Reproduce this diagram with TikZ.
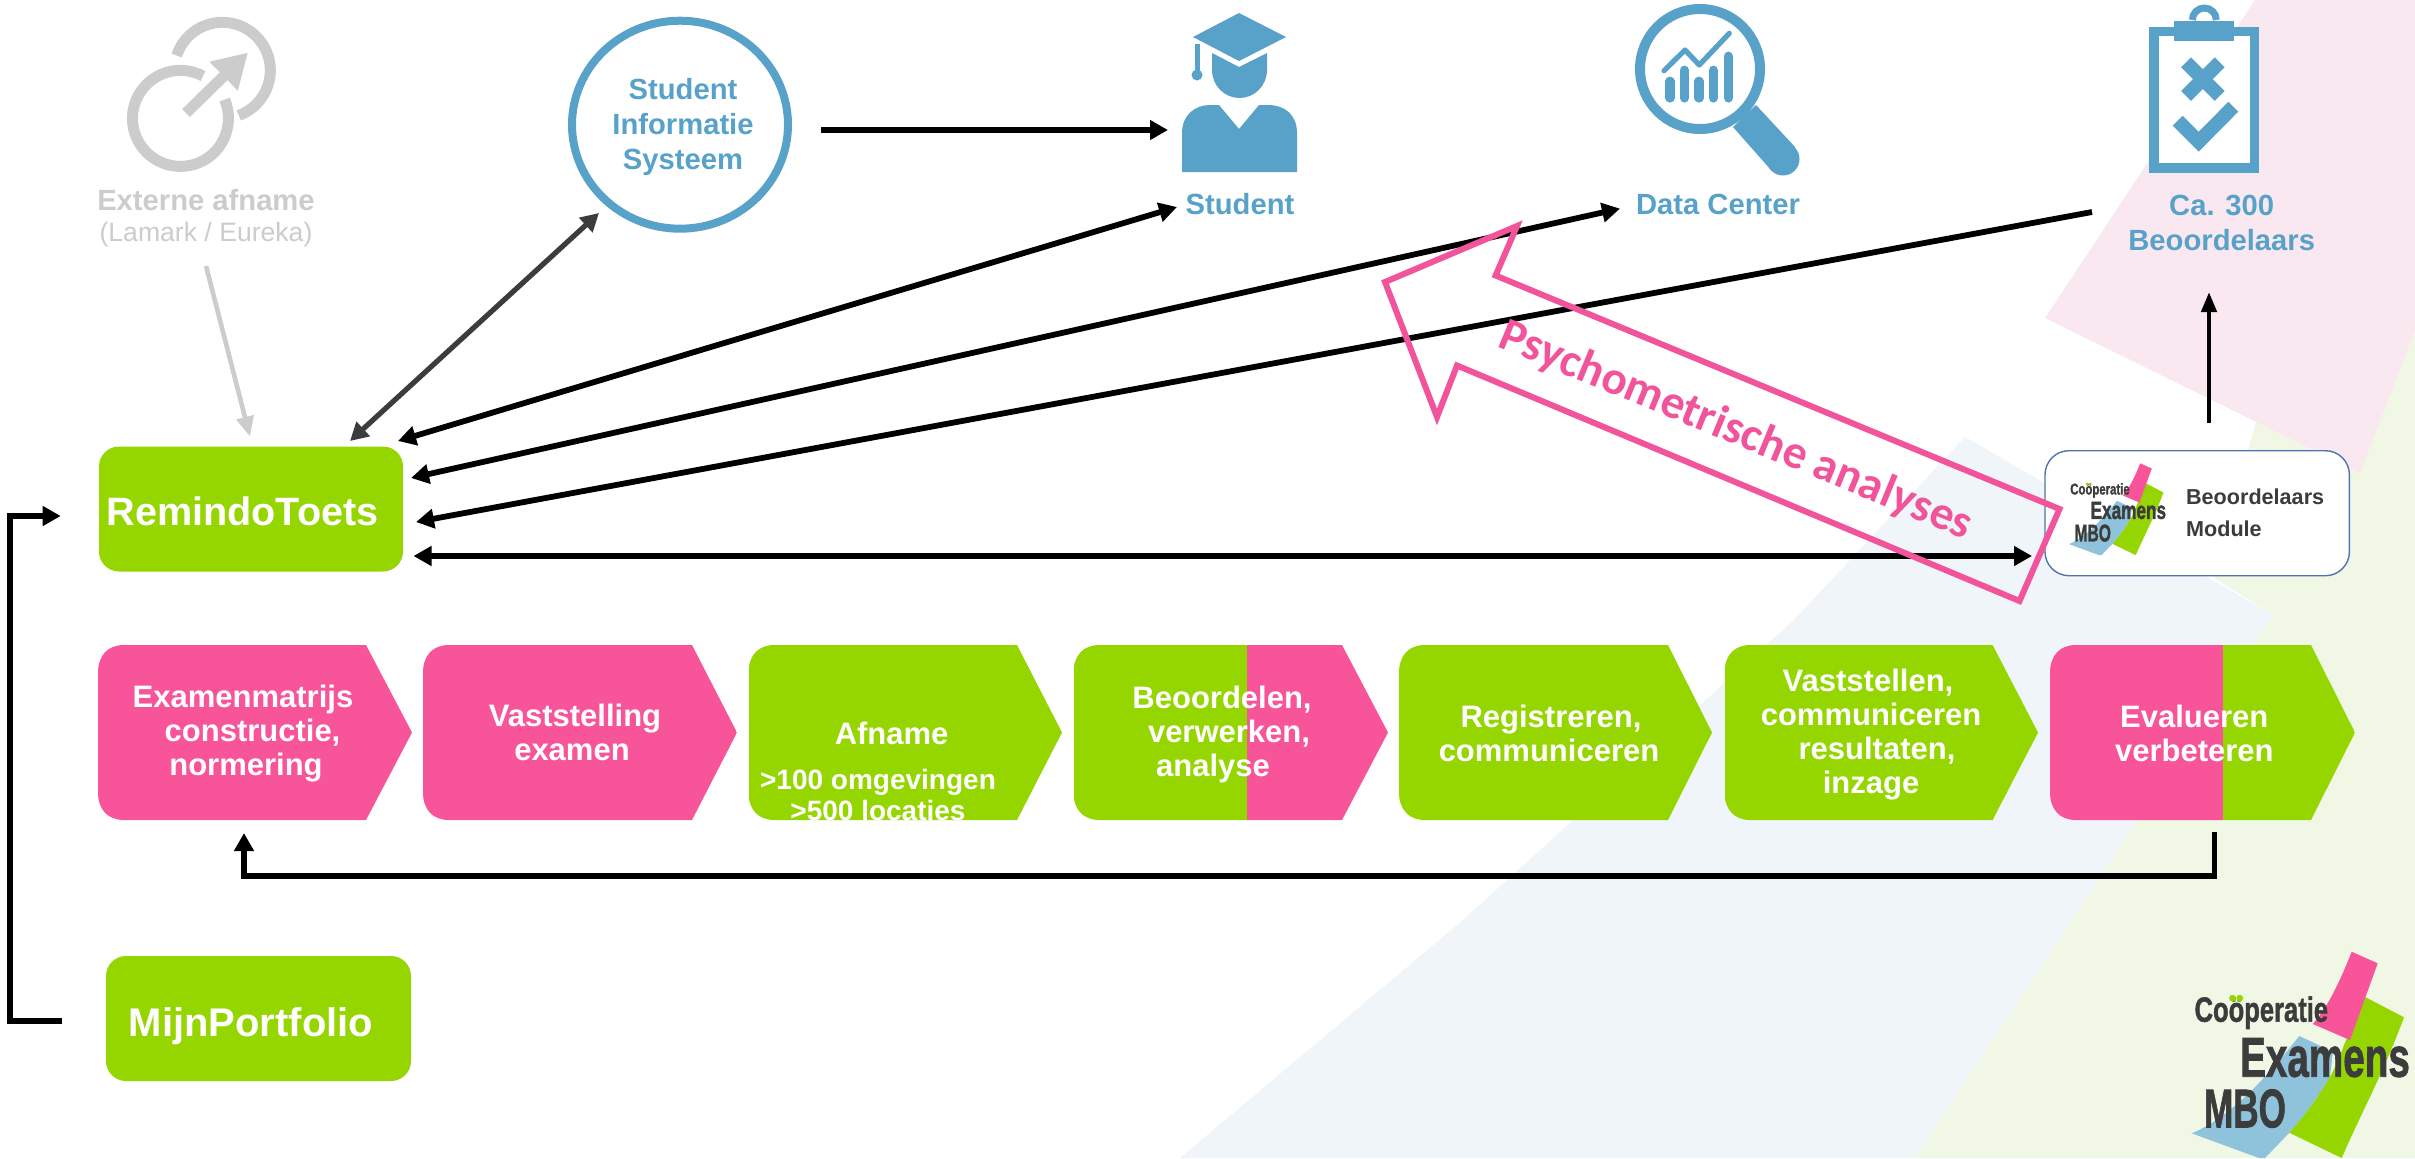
\documentclass[tikz,border=0pt]{standalone}
\usepackage{fontspec}
\setmainfont{Liberation Sans}
\newfontfamily\psyfont{Carlito}
\newfontfamily\logofont{Liberation Sans}[BoldFeatures={FakeBold=1.6}]
\usetikzlibrary{arrows.meta}
\definecolor{cpink}{HTML}{F8549A}
\definecolor{cgreen}{HTML}{95D600}
\definecolor{cblue}{HTML}{58A2C9}
\definecolor{lblue}{HTML}{8FC3DC}
\definecolor{cgrey}{HTML}{CCCCCC}
\definecolor{cdark}{HTML}{3C3C3C}
\definecolor{arrpink}{HTML}{F1549B}
\definecolor{bgpink}{HTML}{FAE8F1}
\definecolor{bggreen}{HTML}{F0F7E4}
\definecolor{bgblue}{HTML}{EFF5F8}
\definecolor{modline}{HTML}{4F74AE}
\tikzset{
  x=0.5pt,y=-0.5pt,
  arr/.style={line width=2.9pt,line join=miter,-{Triangle[length=9pt,width=9.5pt]}},
  arrboth/.style={line width=2.9pt,{Triangle[length=9pt,width=9.5pt]}-{Triangle[length=9pt,width=9.5pt]}},
  arrdark/.style={draw=cdark,line width=2.6pt,{Triangle[length=9pt,width=9.5pt]}-{Triangle[length=9pt,width=9.5pt]}},
  arrgrey/.style={draw=cgrey,line width=2.3pt,-{Triangle[length=10pt,width=8.5pt]}},
  arrthin/.style={line width=2.2pt,-{Triangle[length=10pt,width=7.5pt]}},
  chevtext/.style={text=white,align=center,inner sep=0pt,font=\fontsize{15.5}{17}\selectfont\bfseries},
  bluelabel/.style={text=cblue,align=center,inner sep=0pt,font=\fontsize{14.6}{17.5}\selectfont\bfseries},
  greenbox/.style={fill=cgreen,rounded corners=10pt,inner sep=0pt,text=white},
  logotext/.style={text=cdark,inner sep=0pt,anchor=base,transform shape}
}
\newcommand{\chevpath}[3]{({#1},673) .. controls ({#1},655) and ({#1+10},645) .. ({#1+26},645) -- ({#2},645) -- ({#3},732.5) -- ({#2},820) -- ({#1+26},820) .. controls ({#1+10},820) and ({#1},810) .. ({#1},792) -- cycle}
\newcommand{\chevron}[6]{%
  \begin{scope}
    \clip \chevpath{#1}{#2}{#3};
    \fill[#4] (#1,640) rectangle (#5,825);
    \fill[#6] (#5,640) rectangle (#3,825);
  \end{scope}}
\newcommand{\cemlogo}[1]{%
  \fill[lblue] (107.6,84.3) -- (141.3,100) -- (138.3,125) .. controls (125,148) and (112,165) .. (97.6,181) -- (73.3,206.3) -- (67.3,206.3) -- (0,181.6) .. controls (40,165) and (75,125) .. cycle;
  \fill[cgreen] (174,45.6) -- (212.3,65.6) .. controls (190,125) and (170,160) .. (150,206.3) -- (97.6,181) .. controls (112,165) and (125,148) .. (138.3,125) .. controls (150,105) and (155,80) .. cycle;
  \fill[cpink] (160,0) -- (186,11.6) -- (158.3,88.3) -- (121,72.3) .. controls (137,55) and (150,25) .. cycle;
  \node[logotext,xscale=.73,font=\logofont\fontsize{17.5}{20}\selectfont\bfseries] (#1coop) at (69.6,70) {Coöperatie};
  \fill[cgreen,transform shape] (40.8,46.5) circle (3.4) (48,46.5) circle (3.4);
  \node[logotext,xscale=.69,font=\logofont\fontsize{28}{30}\selectfont\bfseries] (#1exam) at (133.3,125) {Examens};
  \node[logotext,xscale=.645,font=\logofont\fontsize{27.2}{30}\selectfont\bfseries] (#1mbo) at (53.3,175.6) {MBO};
}
\begin{document}
\begin{tikzpicture}
\useasboundingbox (0,0) rectangle (2415,1158);
\fill[white] (0,0) rectangle (2415,1158);
% background planes
\fill[bggreen] (2262,400) -- (2415,300) -- (2415,1158) -- (1915,1158) -- (2273,615) -- (2213,577) -- cycle;
\fill[bgblue] (1965,437) -- (2273,615) -- (1915,1158) -- (1180,1158) -- (1463,920) -- (1794,620) -- cycle;
\fill[bgpink] (2255,0) -- (2415,0) -- (2415,330) -- (2360,473) -- (2045,318) -- cycle;

% chevrons
\chevron{98}{366}{412}{cpink}{412}{cpink}
\chevron{423}{692}{737}{cpink}{737}{cpink}
\chevron{748.5}{1017}{1062}{cgreen}{1062}{cgreen}
\chevron{1073.5}{1342}{1388}{cgreen}{1247}{cpink}
\chevron{1399}{1668}{1712}{cgreen}{1712}{cgreen}
\chevron{1724.5}{1992.6}{2038}{cgreen}{2038}{cgreen}
\chevron{2050}{2311}{2355}{cpink}{2223}{cgreen}

\node[chevtext] (c1) at (243,734) {Examenmatrijs\\\hspace*{9.5pt}constructie,\\\hspace*{3pt}normering};
\node[chevtext] (c2) at (575,732) {Vaststelling\\\hspace*{-3pt}examen};
\node[chevtext] (c3a) at (891.6,733) {Afname};
\begin{scope}
  \clip \chevpath{748.5}{1017}{1062};
  \node[chevtext,font=\fontsize{14}{15.5}\selectfont\bfseries] (c3b) at (878,795) {>100 omgevingen\\>500 locaties};
\end{scope}
\node[chevtext] (c4) at (1222,734) {Beoordelen,\\\hspace*{7pt}verwerken,\\\hspace*{-9pt}analyse};
\node[chevtext] (c5) at (1551,733) {Registreren,\\\hspace*{-2pt}communiceren};
\node[chevtext] (c6) at (1871,734.5) {\hspace*{-3pt}Vaststellen,\\communiceren\\\hspace*{6pt}resultaten,\\inzage};
\node[chevtext] (c7) at (2194.3,733) {Evalueren\\verbeteren};

% boxes
\node[greenbox,minimum width=152pt,minimum height=62.5pt] (remindo) at (251,509) {};
\node[text=white,inner sep=0pt,font=\fontsize{19.8}{22}\selectfont\bfseries] (remindotxt) at (242.5,511) {RemindoToets};
\node[greenbox,minimum width=152.5pt,minimum height=62.5pt] (mijn) at (258.5,1018.5) {};
\node[text=white,inner sep=0pt,font=\fontsize{20}{22}\selectfont\bfseries] (mijntxt) at (251,1026) {MijnPortfolio};

% external exam icon
\draw[cgrey,line width=5.5pt] (203,76) arc[start angle=-62,end angle=-383,radius=48];
\draw[cgrey,line width=5.5pt] (176.7,55.5) arc[start angle=-162,end angle=70,radius=48];
\draw[cgrey,line width=5.5pt,-{Triangle[length=17pt,width=19pt]}] (186,113) -- (248,52.5);
\node[text=cgrey,inner sep=0pt,font=\fontsize{14.6}{17}\selectfont\bfseries] (ext1) at (206,200) {Externe afname};
\node[text=cgrey,inner sep=0pt,font=\fontsize{13.3}{16}\selectfont] (ext2) at (206,234.5) {(Lamark / Eureka)};

% SIS
\draw[cblue,line width=4pt] (680,124.7) ellipse [x radius=108,y radius=104];
\node[bluelabel] (sis) at (683,127) {Student\\Informatie\\Systeem};

% student icon
\fill[cblue] (1239,13) -- (1286,37) -- (1239,61) -- (1193,37) -- cycle;
\fill[cblue] (1195,44) rectangle (1199.5,72);
\fill[cblue] (1197,75) circle (5.5);
\fill[cblue] (1212,53) -- (1239,67) -- (1267,53) -- (1267,70) arc[start angle=0,end angle=180,x radius=27.5,y radius=28] -- cycle;
\fill[cblue] (1182,172) -- (1182,133) .. controls (1182,115) and (1195,105) .. (1210,105) -- (1219,105) -- (1239,129) -- (1259,105) -- (1268,105) .. controls (1285,105) and (1297,115) .. (1297,133) -- (1297,172) -- cycle;
\node[bluelabel] (student) at (1240,204) {Student};

% data center icon
\fill[cblue] (1733,127) -- (1756,105) -- (1795,147) -- (1771,170) -- cycle;
\fill[cblue] (1783,159) circle (16.5);
\fill[white] (1700,69) circle (60);
\draw[cblue,line width=5pt] (1700,69) circle (60);
\foreach \bx/\by in {1670/76.7,1684.3/65.7,1699/76.7,1713.3/65.7,1728.3/51.7}
  \draw[cblue,line width=4.6pt,line cap=round] (\bx,\by+4.5) -- (\bx,98);
\draw[cblue,line width=2.6pt,line cap=round,line join=round] (1664,70.7) -- (1685,50) -- (1699.3,65) -- (1729.3,33.3);
\node[bluelabel] (data) at (1718,204) {Data Center};

% assessors icon
\draw[cblue,line width=3.5pt] (2192.3,20) arc[start angle=180,end angle=360,radius=12];
\fill[cblue] (2149.3,26.7) rectangle (2259.3,173.3);
\fill[white] (2159,36) rectangle (2249.7,163.3);
\fill[cblue] (2174.3,21) rectangle (2234.3,41.3);
\draw[cblue,line width=7pt] (2186,62.3) -- (2219.7,96) (2219.7,62.3) -- (2186,96);
\draw[cblue,line width=7pt,line join=miter] (2177.7,120.7) -- (2198.7,141.7) -- (2233.3,106.7);
\node[bluelabel] (beoord) at (2221.7,222.5) {Ca. 300\\Beoordelaars};

% module box
\node[draw=modline,line width=.7pt,fill=white,rounded corners=12pt,minimum width=152.2pt,minimum height=62.5pt,inner sep=0pt] (module) at (2197.2,513.2) {};
\begin{scope}[shift={(2069,463.3)},scale=.445]
  \cemlogo{s}
\end{scope}
\node[anchor=west,align=left,text=cdark,inner sep=0pt,font=\fontsize{10.8}{16}\selectfont\bfseries] (modtxt) at (2185.7,512.5) {Beoordelaars\\Module};

% large logo
\begin{scope}[shift={(2191.7,951.7)}]
  \cemlogo{b}
\end{scope}

% connector ends
\coordinate (sisR) at (821,130);
\coordinate (stuL) at (1168,130);
\coordinate (sisB) at (599,213);
\coordinate (remS) at (350,441);
\coordinate (stuB) at (1177,207);
\coordinate (remA) at (398,441);
\coordinate (datB) at (1620,208.6);
\coordinate (remB) at (411,478);
\coordinate (beoL) at (2092,212);
\coordinate (remC) at (416,522);
\coordinate (remD) at (413.5,556);
\coordinate (modL) at (2032,556);
\coordinate (extB) at (206,266);
\coordinate (remT) at (250,436.6);
\coordinate (modT) at (2209,423);
\coordinate (beoB) at (2209,292);
\coordinate (mijL) at (62,1021);
\coordinate (remL) at (60.7,516);
\coordinate (c7B) at (2214.5,832);
\coordinate (c1B) at (244,833);

% connectors
\draw[arr] (sisR) -- (stuL);
\draw[arrdark] (sisB) -- (remS);
\draw[arrboth] (stuB) -- (remA);
\draw[arrboth] (datB) -- (remB);
\draw[arr] (beoL) -- (remC);
\draw[arrboth] (remD) -- (modL);
\draw[arrgrey] (extB) -- (remT);
\draw[arrthin] (modT) -- (beoB);
\draw[arr] (mijL) -| (10,516) -- (remL);
\draw[arr] (c7B) |- (244,876) -- (c1B);

% big pink arrow
\draw[arrpink,line width=3pt,line join=miter] (1517,226) -- (1385,282) -- (1437,417) -- (1457,365.5) -- (2019.5,601) -- (2059.5,509) -- (1495.6,275.5) -- cycle;
\node[rotate=-22.4,anchor=base,text=arrpink,inner sep=0pt,font=\psyfont\fontsize{23.6}{26}\selectfont\bfseries] (psy) at (1731,443) {Psychometrische analyses};
\end{tikzpicture}
\end{document}
